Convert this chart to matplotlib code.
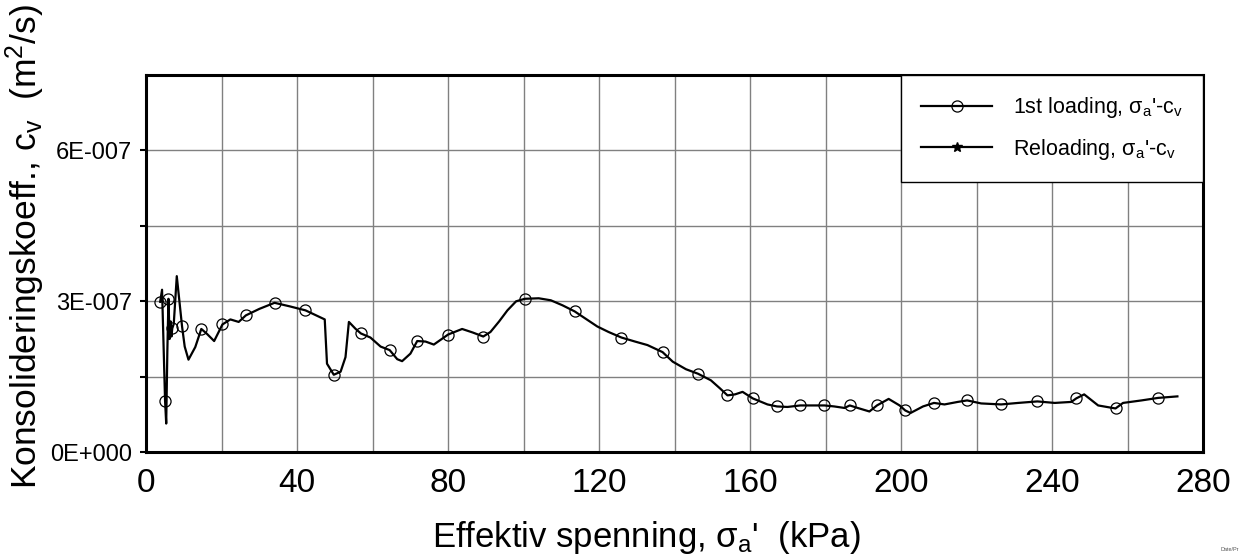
import numpy as np
import matplotlib.pyplot as plt
from matplotlib.ticker import MultipleLocator, FixedLocator

plt.rcParams['font.family'] = ['Liberation Sans', 'DejaVu Sans']
plt.rcParams['mathtext.fontset'] = 'custom'
plt.rcParams['mathtext.rm'] = 'Liberation Sans'
plt.rcParams['mathtext.it'] = 'Liberation Sans'
plt.rcParams['mathtext.bf'] = 'Liberation Sans:bold'

# 1st loading: effective stress (kPa) and cv (1e-7 m2/s), dense trace of the curve
stress = [3.7, 4.2, 5.0, 5.3, 5.6, 5.9, 6.2, 6.5, 6.7, 6.9, 7.3, 8.1, 8.8, 9.5,
          10.2, 11.2, 13.0, 14.6, 16.0, 18.0, 20.2, 22.3, 24.5, 26.4, 30.0,
          34.0, 38.0, 42.2, 47.3, 47.9, 49.7, 51.5, 52.8, 53.7, 55.5, 56.9,
          59.4, 62.1, 64.5, 66.5, 67.8, 70.0, 71.8, 74.0, 76.2, 80.0, 83.7,
          86.5, 89.3, 91.2, 93.5, 95.7, 98.0, 100.3, 104.0, 107.2, 110.3,
          113.5, 116.5, 119.5, 122.5, 125.9, 129.5, 132.8, 136.8, 139.5,
          143.0, 146.2, 149.6, 152.0, 154.0, 156.0, 158.0, 160.7, 164.6,
          167.1, 169.9, 173.3, 176.5, 179.7, 182.3, 185.0, 186.4, 188.5,
          191.6, 193.6, 196.7, 199.6, 201.1, 202.5, 205.8, 208.7, 211.5,
          215.0, 217.5, 221.2, 226.5, 231.0, 236.1, 240.7, 245.1, 246.4,
          248.5, 252.2, 256.8, 258.8, 263.7, 268.1, 273.2]
cv = [2.99, 3.23, 1.02, 0.57, 2.00, 3.05, 2.25, 2.60, 2.30, 2.46, 2.55, 3.50,
      3.00, 2.50, 2.10, 1.84, 2.09, 2.45, 2.36, 2.21, 2.54, 2.64, 2.59, 2.72,
      2.85, 2.97, 2.90, 2.82, 2.64, 1.76, 1.54, 1.60, 1.89, 2.59, 2.45, 2.36,
      2.28, 2.10, 2.03, 1.85, 1.81, 1.96, 2.21, 2.20, 2.14, 2.34, 2.45, 2.38,
      2.30, 2.39, 2.60, 2.82, 3.00, 3.05, 3.06, 3.02, 2.92, 2.80, 2.65, 2.50,
      2.39, 2.28, 2.20, 2.13, 1.99, 1.80, 1.65, 1.56, 1.43, 1.27, 1.13, 1.15,
      1.20, 1.07, 0.95, 0.91, 0.90, 0.93, 0.93, 0.93, 0.91, 0.88, 0.93, 0.88,
      0.81, 0.93, 1.06, 0.93, 0.83, 0.78, 0.91, 0.98, 0.95, 1.00, 1.03, 0.97,
      0.95, 0.98, 1.01, 0.98, 1.00, 1.07, 1.15, 0.93, 0.87, 0.98, 1.03, 1.08,
      1.11]
# measured points (shown with circles)
measured = [0, 2, 5, 9, 13, 17, 20, 23, 25, 27, 30, 35, 38, 42, 45, 48, 53,
            57, 61, 64, 67, 70, 73, 75, 77, 79, 82, 85, 88, 91, 94, 96, 98,
            101, 104, 107]

# reloading branch (no points)
reload_stress = []
reload_cv = []

yticks = [0.0, 3e-7, 6e-7]
ytick_labels = ['0E+000', '3E-007', '6E-007']
xticks = [0, 40, 80, 120, 160, 200, 240, 280]

fig = plt.figure(figsize=(12.39, 5.59), dpi=100)
ax = fig.add_axes([0.118, 0.191, 0.853, 0.675])

ax.plot(stress, np.array(cv) * 1e-7, color='black', lw=1.6,
        marker='o', markevery=measured, ms=8, mfc='none', mec='black',
        mew=0.9, label="1st loading, $\\sigma_a$'-c$_v$")
ax.plot(reload_stress, reload_cv, color='black', lw=1.6, marker='*', ms=7,
        label="Reloading, $\\sigma_a$'-c$_v$")

ax.set_xlim(0, 280)
ax.set_ylim(0, 7.5e-7)
ax.set_xticks(xticks)
ax.set_xticklabels([str(t) for t in xticks])
ax.xaxis.set_minor_locator(MultipleLocator(20))
ax.set_yticks(yticks)
ax.set_yticklabels(ytick_labels)
ax.yaxis.set_minor_locator(FixedLocator([1.5e-7, 4.5e-7]))

ax.grid(True, which='both', color='#808080', lw=1.0)
ax.set_axisbelow(True)
ax.tick_params(axis='x', which='major', labelsize=24, length=0, pad=11)
ax.tick_params(axis='x', which='minor', length=0)
ax.tick_params(axis='y', which='major', labelsize=17, length=4, width=1.5, pad=6)
ax.tick_params(axis='y', which='minor', length=4, width=1.5)
for s in ax.spines.values():
    s.set_linewidth(2.2)

ax.set_xlabel("Effektiv spenning, $\\sigma_a$'  (kPa)", fontsize=25)
ax.xaxis.set_label_coords(0.4735, -0.178)
ax.set_ylabel("Konsolideringskoeff., c$_v$  (m$^2$/s)", fontsize=25.5)
ax.yaxis.set_label_coords(-0.094, 0.545)

leg = ax.legend(loc='upper right', fontsize=15.5, frameon=True, fancybox=False,
                borderaxespad=0, handlelength=3.3, handletextpad=0.95,
                labelspacing=0.75, borderpad=0.95)
leg.get_frame().set_edgecolor('black')
leg.get_frame().set_linewidth(1.0)
leg.get_frame().set_alpha(1)

fig.text(0.985, 0.015, 'Date/Pr', fontsize=4, color='#555555', ha='left')

fig.savefig('out.png', dpi=100)
